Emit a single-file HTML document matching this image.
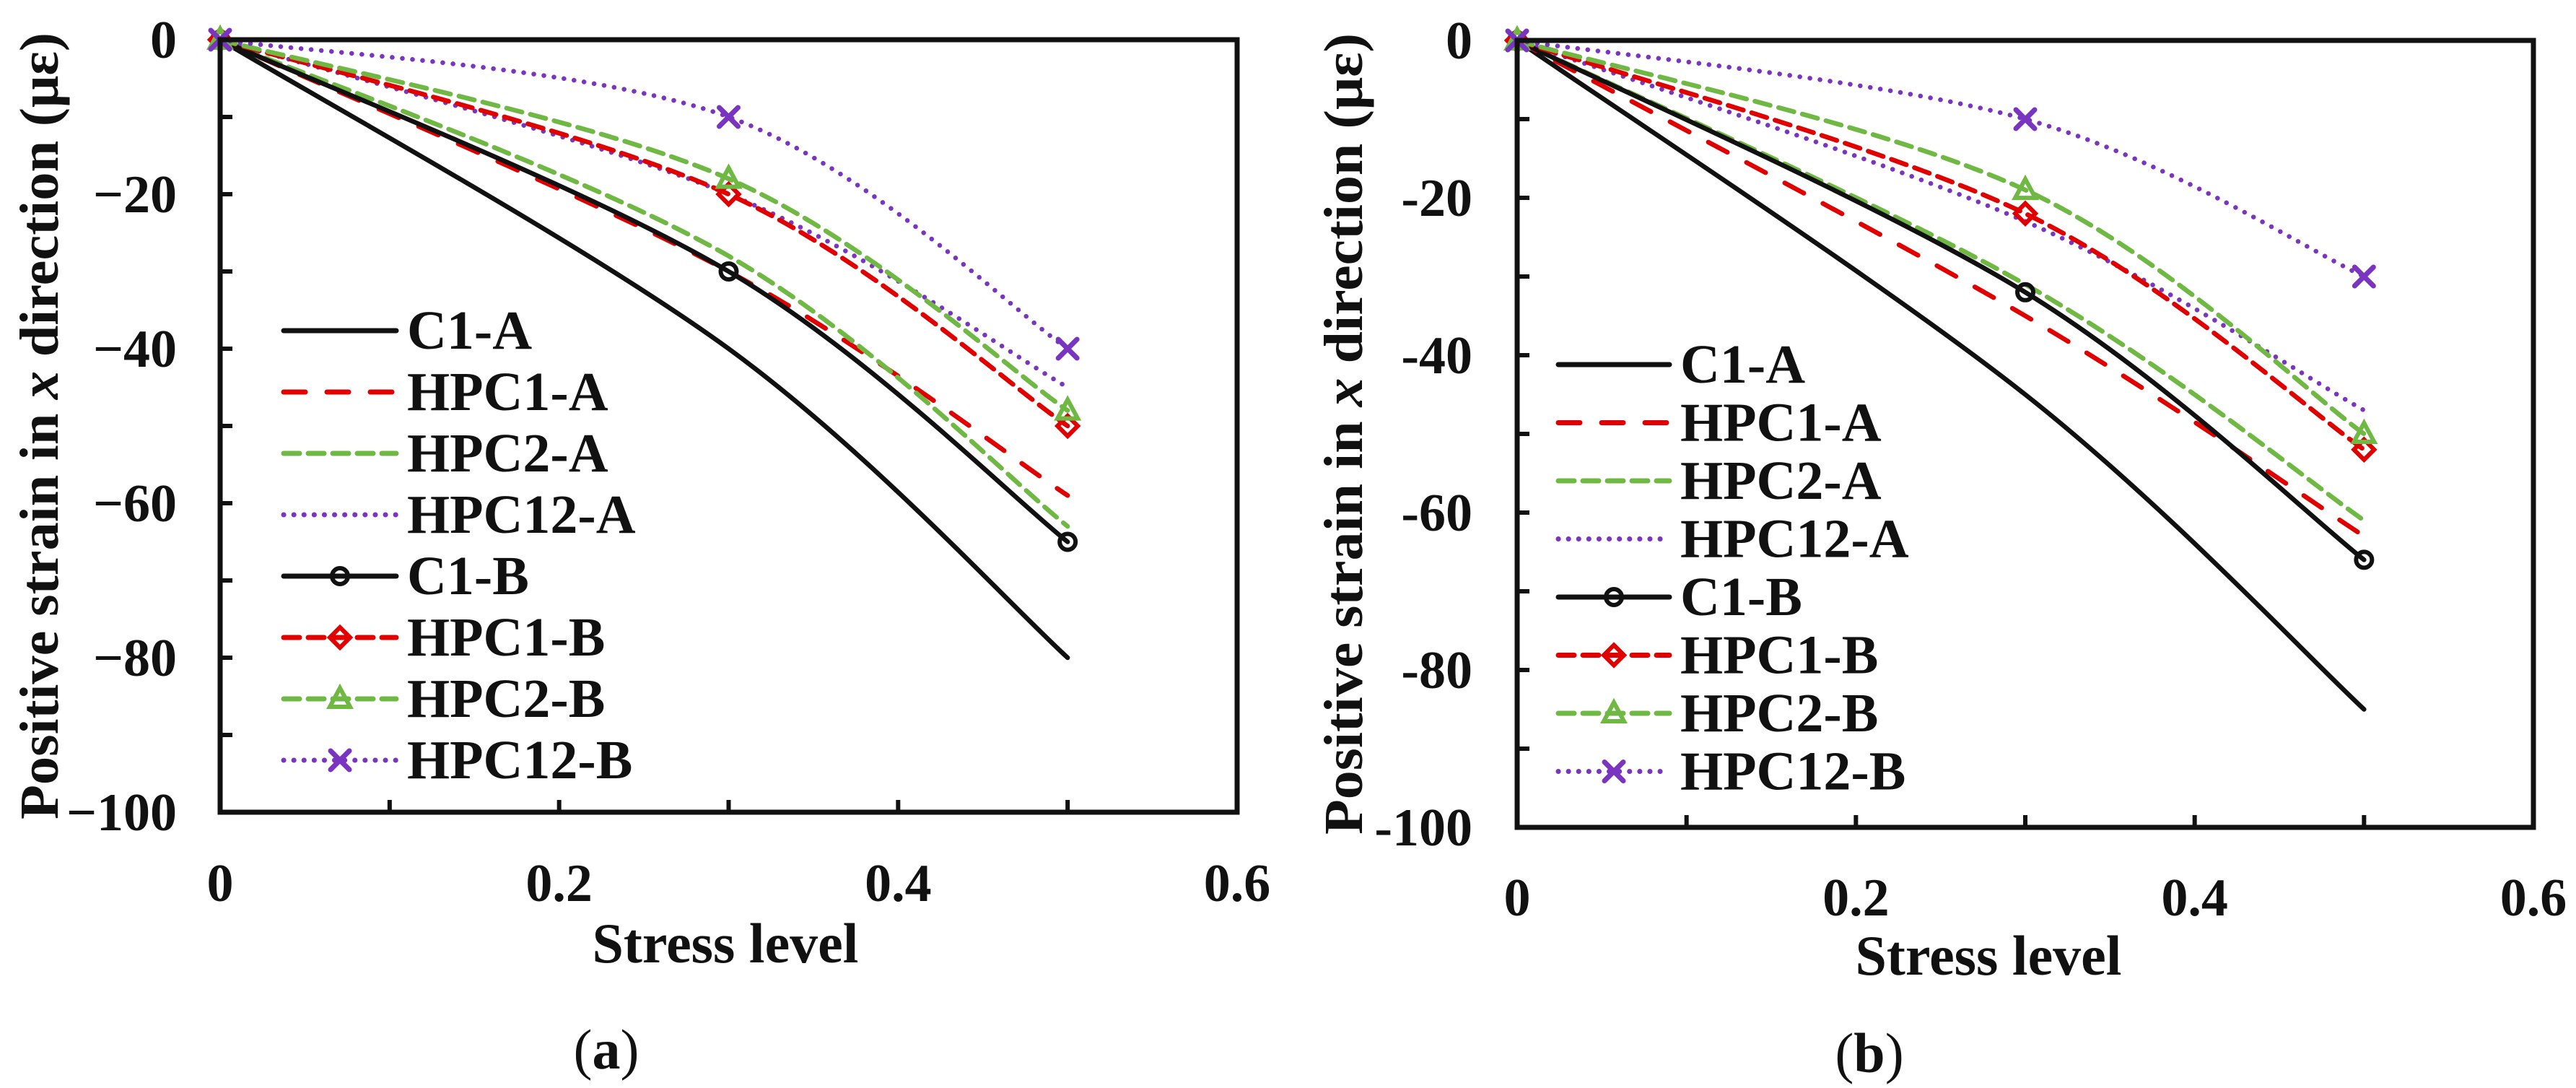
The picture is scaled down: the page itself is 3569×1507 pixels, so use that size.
<!DOCTYPE html>
<html><head><meta charset="utf-8"><style>
html,body{margin:0;padding:0;background:#fff;}
svg{display:block;}
text{font-family:"Liberation Serif",serif;fill:#111;}
</style></head><body>
<svg id="fig" width="3569" height="1507" viewBox="0 0 3569 1507" xmlns="http://www.w3.org/2000/svg">
<g id="panelA"></g>
<g id="panelB"></g>
</svg>
<script>
// ---- data ----
const stressLevels = [0, 0.3, 0.5];
const seriesNames = ["C1-A","HPC1-A","HPC2-A","HPC12-A","C1-B","HPC1-B","HPC2-B","HPC12-B"];
const xTicks = [0, 0.2, 0.4, 0.6];
const yTicks = [0, -20, -40, -60, -80, -100];
const yTickLabelsA = ["0","\u221220","\u221240","\u221260","\u221280","\u2212100"];
const yTickLabelsB = ["0","-20","-40","-60","-80","-100"];
const xTickLabels = ["0","0.2","0.4","0.6"];
// panel (a)
const a_C1A   = [0, -40, -80];
const a_HPC1A = [0, -30, -59];
const a_HPC2A = [0, -28, -63];
const a_HPC12A= [0, -20, -45];
const a_C1B   = [0, -30, -65];
const a_HPC1B = [0, -20, -50];
const a_HPC2B = [0, -18, -48];
const a_HPC12B= [0, -10, -40];
// panel (b)
const b_C1A   = [0, -45, -85];
const b_HPC1A = [0, -35, -63];
const b_HPC2A = [0, -31, -61];
const b_HPC12A= [0, -23, -47];
const b_C1B   = [0, -32, -66];
const b_HPC1B = [0, -22, -52];
const b_HPC2B = [0, -19, -50];
const b_HPC12B= [0, -10, -30];

const NS = "http://www.w3.org/2000/svg";
const styles = {
  "C1-A":   {c:"#111", dash:"", marker:null},
  "HPC1-A": {c:"#e00000", dash:"30 30", marker:null},
  "HPC2-A": {c:"#70b844", dash:"22 12", marker:null},
  "HPC12-A":{c:"#7a35c0", dash:"0.1 14", marker:null},
  "C1-B":   {c:"#111", dash:"", marker:"circle"},
  "HPC1-B": {c:"#e00000", dash:"22 12", marker:"diamond"},
  "HPC2-B": {c:"#70b844", dash:"22 12", marker:"triangle"},
  "HPC12-B":{c:"#7a35c0", dash:"0.1 14", marker:"x"}
};
function mk(tag, attrs, parent){ const e=document.createElementNS(NS,tag); for(const k in attrs) e.setAttribute(k,attrs[k]); parent.appendChild(e); return e; }
function smoothPath(pts){
  let d="M"+pts[0][0]+","+pts[0][1];
  for(let i=0;i<pts.length-1;i++){
    const p0=pts[Math.max(0,i-1)], p1=pts[i], p2=pts[i+1], p3=pts[Math.min(pts.length-1,i+2)];
    const c1=[p1[0]+(p2[0]-p0[0])/6, p1[1]+(p2[1]-p0[1])/6];
    const c2=[p2[0]-(p3[0]-p1[0])/6, p2[1]-(p3[1]-p1[1])/6];
    d+=" C"+c1[0]+","+c1[1]+" "+c2[0]+","+c2[1]+" "+p2[0]+","+p2[1];
  }
  return d;
}
function drawMarker(g, type, x, y, c){
  let m;
  if(type==="circle"){ m=mk("circle",{cx:x,cy:y,r:11,fill:"none",stroke:c,"stroke-width":6},g); }
  else if(type==="diamond"){ m=mk("polygon",{points:`${x},${y-14} ${x+14},${y} ${x},${y+14} ${x-14},${y}`,fill:"none",stroke:c,"stroke-width":6},g); }
  else if(type==="triangle"){ m=mk("polygon",{points:`${x},${y-15} ${x+14},${y+11} ${x-14},${y+11}`,fill:"none",stroke:c,"stroke-width":6},g); }
  else { m=mk("path",{d:`M${x-13},${y-13}L${x+13},${y+13}M${x+13},${y-13}L${x-13},${y+13}`,stroke:c,"stroke-width":7,"stroke-linecap":"round"},g); }
  
  
}
function panel(g, cfg, data){
  const X = v => cfg.x0 + (v/0.6)*(cfg.x1-cfg.x0);
  const Y = v => cfg.y0 + (-v/100)*(cfg.y1-cfg.y0);
  seriesNames.forEach((n,si)=>{
    const s=styles[n]; const vals=data[si];
    const pts=stressLevels.map((x,i)=>[X(x),Y(vals[i])]);
    const sg=mk("g",{},g);
    
    
    const p=mk("path",{d:smoothPath(pts),fill:"none",stroke:s.c,"stroke-width":6.5,"stroke-linecap":"round","stroke-dasharray":s.dash},sg);
    
    
    if(s.marker) pts.forEach(pt=>drawMarker(sg,s.marker,pt[0],pt[1],s.c));
  });
  const box=mk("rect",{x:cfg.x0,y:cfg.y0,width:cfg.x1-cfg.x0,height:cfg.y1-cfg.y0,fill:"none",stroke:"#111","stroke-width":7},g);
  
  
  for(let v=-10; v>-100; v-=10){
    const t=mk("line",{x1:cfg.x0,x2:cfg.x0+17,y1:Y(v),y2:Y(v),stroke:"#111","stroke-width":6},g);
    
    
  }
  for(let v=0.1; v<0.59; v+=0.1){
    const t=mk("line",{x1:X(v),x2:X(v),y1:cfg.y1,y2:cfg.y1-17,stroke:"#111","stroke-width":6},g);
    
    
  }
  yTicks.forEach((v,i)=>{
    const t=mk("text",{x:cfg.ylabX,y:Y(v)+25,"text-anchor":"end","font-size":74,"font-weight":"bold"},g);
    t.textContent=cfg.yLabels[i];
    
    
  });
  xTicks.forEach((v,i)=>{
    const t=mk("text",{x:X(v),y:cfg.xlabY,"text-anchor":"middle","font-size":74,"font-weight":"bold"},g);
    t.textContent=xTickLabels[i];
    
    
  });
  const xt=mk("text",{x:cfg.xtX,y:cfg.xtY,"text-anchor":"middle","font-size":78,"font-weight":"bold"},g);
  xt.textContent="Stress level";
  
  
  const yc=(cfg.y0+cfg.y1)/2;
  const yt=mk("text",{x:cfg.ytX,y:yc,"text-anchor":"middle","font-size":76,"font-weight":"bold",transform:`rotate(-90 ${cfg.ytX} ${yc})`,textLength:cfg.ytLen,lengthAdjust:"spacingAndGlyphs"},g);
  yt.innerHTML='Positive strain in <tspan font-style="italic">x</tspan> direction (με)';
  
  
  const cap=mk("text",{x:cfg.capX,y:cfg.capY,"text-anchor":"middle","font-size":78},g);
  cap.innerHTML='(<tspan font-weight="bold">'+cfg.cap+'</tspan>)';
  
  
  const lg=mk("g",{},g);
  
  
  seriesNames.forEach((n,i)=>{
    const s=styles[n]; const y=cfg.legY+i*cfg.legDy;
    const eg=mk("g",{},lg);
    
    
    mk("line",{x1:cfg.legX0,x2:cfg.legX1,y1:y,y2:y,stroke:s.c,"stroke-width":7,"stroke-linecap":"round","stroke-dasharray":s.dash},eg);
    if(s.marker) drawMarker(eg,s.marker,(cfg.legX0+cfg.legX1)/2,y,s.c);
    const t=mk("text",{x:cfg.legX1+15,y:y+25,"font-size":76,"font-weight":"bold"},eg);
    t.textContent=n;
  });
}
panel(document.getElementById("panelA"),
  {x0:305,x1:1714,y0:55,y1:1125,ylabX:245,xlabY:1248,xtX:1005,xtY:1333,ytX:80,ytLen:1090,capX:840,capY:1480,cap:"a",
   yLabels:yTickLabelsA,legX0:393,legX1:549,legY:458,legDy:85},
  [a_C1A,a_HPC1A,a_HPC2A,a_HPC12A,a_C1B,a_HPC1B,a_HPC2B,a_HPC12B]);
panel(document.getElementById("panelB"),
  {x0:2102,x1:3510,y0:56,y1:1146,ylabX:2040,xlabY:1268,xtX:2755,xtY:1350,ytX:1887,ytLen:1110,capX:2590,capY:1485,cap:"b",
   yLabels:yTickLabelsB,legX0:2159,legX1:2313,legY:505,legDy:80.5},
  [b_C1A,b_HPC1A,b_HPC2A,b_HPC12A,b_C1B,b_HPC1B,b_HPC2B,b_HPC12B]);
</script>
</body></html>
